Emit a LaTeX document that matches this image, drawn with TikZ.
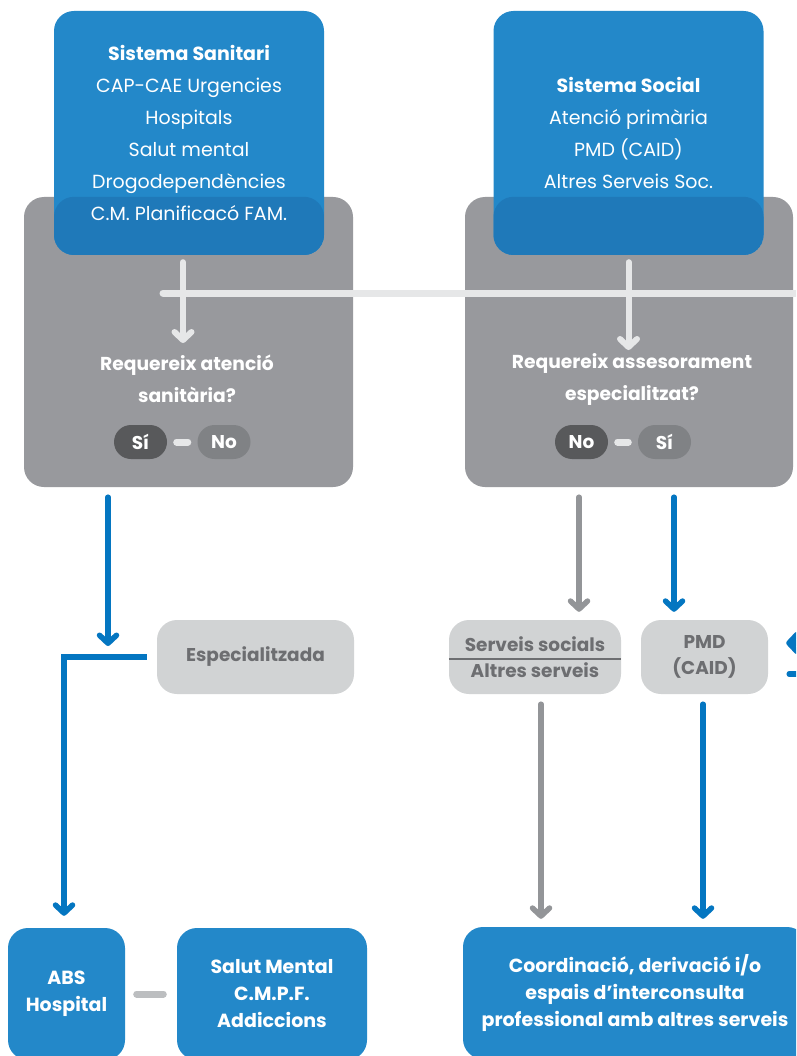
\documentclass[tikz,border=0pt]{standalone}
\usepackage{fontspec}
\setmainfont{Poppins}
\usetikzlibrary{arrows.meta}
\definecolor{sysblue}{HTML}{2388C9}
\definecolor{ovlblue}{HTML}{1F79B9}
\definecolor{lineblue}{HTML}{0476C1}
\definecolor{boxgray}{HTML}{98999D}
\definecolor{palegray}{HTML}{D1D3D4}
\definecolor{textgray}{HTML}{6D6E71}
\definecolor{pilldark}{HTML}{58595B}
\definecolor{pillmid}{HTML}{808285}
\definecolor{rulegray}{HTML}{E6E7E8}
\definecolor{arrgray}{HTML}{939598}
\definecolor{dashgray}{HTML}{BCBEC0}
\tikzset{%
  tipV/.tip={Straight Barb[round,length=8pt,width=17pt]},
  sysbox/.style={fill=sysblue, rounded corners=20pt, text=white, align=center,
    minimum width=270pt, minimum height=244pt, inner sep=0pt,
    font=\fontsize{19}{32}\selectfont,
    path picture={\fill[ovlblue] (path picture bounding box.south west)
      rectangle (path picture bounding box.east |- gsan.north);}},
  graybox/.style={fill=boxgray, rounded corners=20pt, minimum height=290pt, inner sep=0pt},
  palebox/.style={fill=palegray, rounded corners=20pt, text=textgray, align=center,
    minimum height=74pt, inner sep=0pt, font=\fontsize{18.5}{26}\selectfont\bfseries},
  endbox/.style={fill=sysblue, rounded corners=20pt, text=white, align=center,
    minimum height=132pt, inner sep=0pt, font=\fontsize{19}{27}\selectfont\bfseries},
  question/.style={text=white, align=center, inner sep=0pt, font=\fontsize{18.7}{32}\selectfont\bfseries},
  pill/.style={rounded corners=17pt, text=white, minimum width=53pt, minimum height=34pt,
    inner sep=0pt, font=\fontsize{18.5}{20}\selectfont\bfseries},
  pillline/.style={rulegray, line width=7pt, line cap=round, shorten <=9.5pt, shorten >=9.5pt},
  palearrow/.style={rulegray, line width=6pt, line cap=round, -tipV},
  bluearrow/.style={lineblue, line width=5.5pt, line cap=round, -tipV},
  grayarrow/.style={arrgray, line width=5.5pt, line cap=round, -tipV},
}

\begin{document}
\begin{tikzpicture}[x=1pt,y=-1pt]
\useasboundingbox (0,0) rectangle (796,1056);
\fill[white] (0,0) rectangle (796,1056);
\clip (0,0) rectangle (796,1056);

% upper block: systems and questions
\node[graybox, minimum width=329pt] (gsan) at (188.5,342) {};
\node[graybox, minimum width=328pt] (gsoc) at (629,342) {};
\node[sysbox] (san) at (189,133) {\textbf{Sistema Sanitari}\\CAP-CAE Urgencies\\Hospitals\\Salut mental\\Drogodependències\\C.M. Planificacó FAM.};
\node[sysbox] (soc) at (628.5,133) {\textbf{Sistema Social}\\Atenció primària\\PMD (CAID)\\Altres Serveis Soc.};

\coordinate (ruleL) at (163,293);
\coordinate (ruleR) at (810,293);
\draw[rulegray, line width=7pt, line cap=round] (ruleL) -- (ruleR);

\node[question] (q1) at (187,379) {Requereix atenció\\sanitària?};
\node[question] (q2) at (632,379) {Requereix assesorament\\especialitzat?};
\draw[palearrow] ([xshift=-6pt,yshift=-7pt]san.south) -- ([xshift=-6pt,yshift=-7pt]san.south |- ruleL) -- ([xshift=-6pt]san.south |- 0,343);
\draw[palearrow] ([yshift=-7pt]soc.south) -- ([yshift=-7pt]soc.south |- 0,343);

\node[pill, fill=pilldark] (si1) at (140.5,442) {Sí};
\node[pill, fill=pillmid] (no1) at (224,442) {No};
\node[pill, fill=pilldark] (no2) at (581.5,442) {No};
\node[pill, fill=pillmid] (si2) at (664.5,442) {Sí};
\draw[pillline] (si1) -- (no1);
\draw[pillline] (no2) -- (si2);

% middle row
\node[palebox, minimum width=197pt] (esp) at (255.5,657) {Especialitzada};
\node[palebox, minimum width=172pt] (ssoc) at (535,657) {Serveis socials\\Altres serveis};
\draw[textgray, line width=1.5pt] ([yshift=-2pt]ssoc.west) -- ([yshift=-2pt]ssoc.east);
\node[palebox, minimum width=127pt] (pmd) at (704.5,657) {PMD\\(CAID)};

% lower row
\node[endbox, minimum width=117pt] (abs) at (66.5,994) {ABS\\Hospital};
\node[endbox, minimum width=190pt] (salut) at (272,994) {Salut Mental\\C.M.P.F.\\Addiccions};
\node[endbox, minimum width=344pt] (coord) at (635,993) {Coordinació, derivació i/o\\espais d’interconsulta\\professional amb altres serveis};
\draw[dashgray, line width=7pt, line cap=round, shorten <=11.5pt, shorten >=13.5pt] (abs) -- (salut);

% connectors
\coordinate (espJ) at (108,646);
\coordinate (socNo) at (579,0);
\coordinate (socSi) at (674,0);
\coordinate (lowG) at (541,0);
\coordinate (lowB) at (703,0);
\draw[bluearrow] ([yshift=-10pt]gsan.south -| espJ) -- (espJ);
\draw[bluearrow, line cap=butt] ([xshift=-10pt]esp.west) -| ([xshift=-2.5pt,yshift=12pt]abs.north);
\draw[grayarrow] ([yshift=-10pt]gsoc.south -| socNo) -- ([yshift=8pt]ssoc.north -| socNo);
\draw[bluearrow] ([yshift=-10pt]gsoc.south -| socSi) -- ([yshift=8pt]pmd.north -| socSi);
\draw[grayarrow] ([yshift=-10pt]ssoc.south -| lowG) -- ([yshift=8pt]coord.north -| lowG);
\draw[bluearrow] ([yshift=-10pt]pmd.south -| lowB) -- ([yshift=8pt]coord.north -| lowB);
% links leaving the page on the right
\coordinate (pmdIn) at (830,643);
\coordinate (pmdOut) at (830,674);
\draw[bluearrow] (pmdIn) -- ([xshift=18pt,yshift=14pt]pmd.east);
\draw[lineblue, line width=5.5pt, line cap=round] ([xshift=21pt,yshift=-17pt]pmd.east) -- (pmdOut);
\end{tikzpicture}
\end{document}
